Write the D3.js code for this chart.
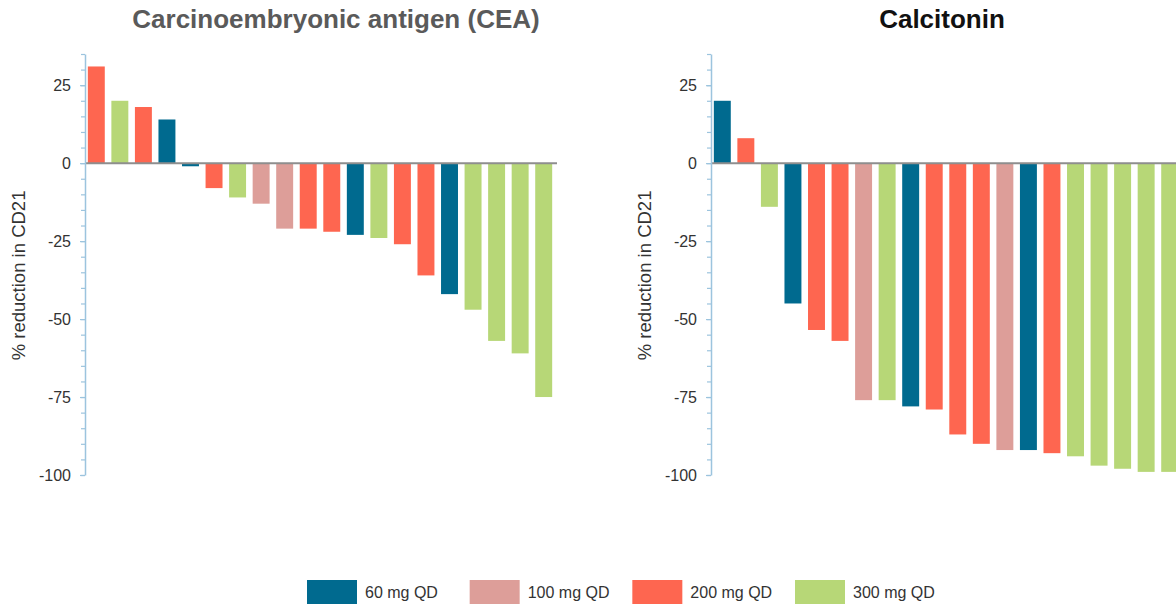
<!DOCTYPE html>
<html>
<head>
<meta charset="utf-8">
<script src="https://cdn.jsdelivr.net/npm/d3@7"></script>
<style>
  body { margin: 0; background: #fff; }
  svg { display: block; font-family: "Liberation Sans", Arial, Helvetica, sans-serif; }
</style>
</head>
<body>
<svg id="chart" width="1176" height="612"></svg>
<script>
// Dose groups and their legend colours
const doseGroups = ["60 mg QD", "100 mg QD", "200 mg QD", "300 mg QD"];
const doseColors = ["#006a8f", "#dd9e99", "#fe6650", "#b7d777"];

// Patients, ordered as a waterfall (one bar each)
const patients = d3.range(1, 21).map(i => "Pt " + i);

// Carcinoembryonic antigen (CEA): % change and dose per patient
const ceaValues = [31, 20, 18, 14, -1, -8, -11, -13, -21, -21, -22, -23, -24, -26, -36, -42, -47, -57, -61, -75];
const ceaDoses = ["200 mg QD", "300 mg QD", "200 mg QD", "60 mg QD", "60 mg QD", "200 mg QD", "300 mg QD", "100 mg QD", "100 mg QD", "200 mg QD",
                  "200 mg QD", "60 mg QD", "300 mg QD", "200 mg QD", "200 mg QD", "60 mg QD", "300 mg QD", "300 mg QD", "300 mg QD", "300 mg QD"];

// Calcitonin: % change and dose per patient
const calcValues = [20, 8, -14, -45, -53.5, -57, -76, -76, -78, -79, -87, -90, -92, -92, -93, -94, -97, -98, -99, -99];
const calcDoses = ["60 mg QD", "200 mg QD", "300 mg QD", "60 mg QD", "200 mg QD", "200 mg QD", "100 mg QD", "300 mg QD", "60 mg QD", "200 mg QD",
                   "200 mg QD", "200 mg QD", "100 mg QD", "60 mg QD", "200 mg QD", "300 mg QD", "300 mg QD", "300 mg QD", "300 mg QD", "300 mg QD"];

// Axis ticks
const majorTicks = [25, 0, -25, -50, -75, -100];
const minorTicks = d3.range(-100, 36, 5);
const yLabel = "% reduction in CD21";

const svg = d3.select("#chart");
const color = d3.scaleOrdinal().domain(doseGroups).range(doseColors);
const y = d3.scaleLinear().domain([-100, 35]).range([475, 54]);

const panels = [
  { title: "Carcinoembryonic antigen (CEA)", titleColor: "#5a5a5a", values: ceaValues, doses: ceaDoses, x0: 85, titleX: 336 },
  { title: "Calcitonin", titleColor: "#111", values: calcValues, doses: calcDoses, x0: 711, titleX: 942 }
];

const plotWidth = 470;

panels.forEach(p => {
  const g = svg.append("g");
  const x = d3.scaleBand()
    .domain(patients)
    .range([p.x0, p.x0 + plotWidth])
    .paddingInner(0.28)
    .paddingOuter(0.12);

  // title
  g.append("text")
    .attr("x", p.titleX).attr("y", 28)
    .attr("text-anchor", "middle")
    .attr("font-size", 26).attr("font-weight", "bold")
    .attr("fill", p.titleColor)
    .text(p.title);

  // bars
  g.selectAll("rect.bar")
    .data(p.values)
    .join("rect")
    .attr("class", "bar")
    .attr("x", (d, i) => x(patients[i]))
    .attr("width", x.bandwidth())
    .attr("y", d => y(Math.max(0, d)))
    .attr("height", d => Math.abs(y(d) - y(0)))
    .attr("fill", (d, i) => color(p.doses[i]));

  // zero baseline
  g.append("line")
    .attr("x1", p.x0).attr("x2", p.x0 + plotWidth + 2)
    .attr("y1", y(0)).attr("y2", y(0))
    .attr("stroke", "#8e8e8e").attr("stroke-width", 2);

  // minor ticks
  const minor = g.append("g")
    .attr("transform", `translate(${p.x0},0)`)
    .call(d3.axisLeft(y).tickValues(minorTicks).tickSize(4).tickSizeOuter(0).tickFormat(""));
  minor.select(".domain").remove();
  minor.selectAll("line").attr("stroke", "#9cc4de").attr("stroke-width", 1.2);

  // major ticks and labels (plain hyphen for negatives)
  const major = g.append("g")
    .attr("transform", `translate(${p.x0},0)`)
    .call(d3.axisLeft(y).tickValues(majorTicks).tickSize(5).tickSizeOuter(0).tickPadding(9)
      .tickFormat(d => String(d)));
  major.select(".domain").attr("stroke", "#9cc4de").attr("stroke-width", 1.5);
  major.selectAll(".tick line").attr("stroke", "#9cc4de").attr("stroke-width", 1.2);
  major.selectAll(".tick text")
    .attr("font-size", 16)
    .attr("font-family", "Liberation Sans, Arial, sans-serif")
    .attr("fill", "#333");

  // y axis title
  g.append("text")
    .attr("transform", `translate(${p.x0 - 60},${y(-36)}) rotate(-90)`)
    .attr("text-anchor", "middle")
    .attr("font-size", 18.5)
    .attr("fill", "#333")
    .text(yLabel);
});

// legend
const legend = svg.append("g");
const legendX = d3.scalePoint().domain(doseGroups).range([307, 795]);
const items = legend.selectAll("g").data(doseGroups).join("g")
  .attr("transform", d => `translate(${legendX(d)},580)`);
items.append("rect")
  .attr("width", 50).attr("height", 24)
  .attr("fill", d => color(d));
items.append("text")
  .attr("x", 58).attr("y", 18)
  .attr("font-size", 16)
  .attr("fill", "#333")
  .text(d => d);
</script>
</body>
</html>
